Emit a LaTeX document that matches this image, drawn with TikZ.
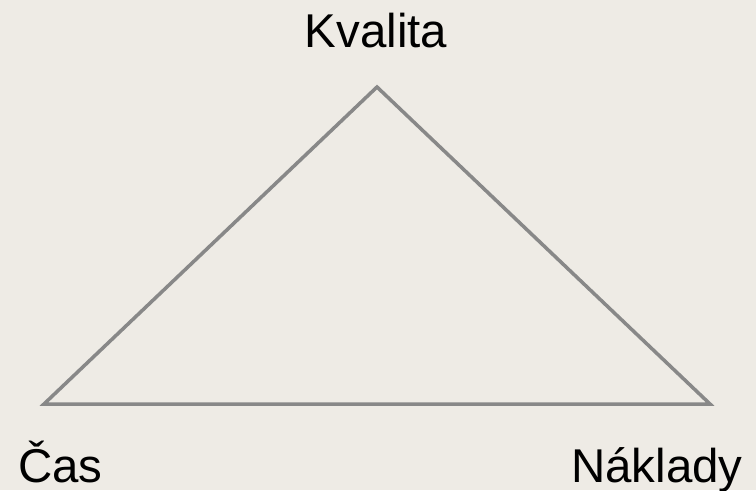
\documentclass[tikz,border=0pt]{standalone}
\usepackage{fontspec}
\setmainfont{Liberation Sans}
\usetikzlibrary{positioning}
\definecolor{paper}{HTML}{EEEBE5}
\definecolor{edgegray}{HTML}{888888}
\tikzset{
  cornerlabel/.style={
    inner sep=0pt, text=black,
    font=\fontsize{27}{31}\selectfont
  },
  triedge/.style={draw=edgegray, line width=2pt, line join=miter},
}

\begin{document}
\begin{tikzpicture}[x=0.02cm, y=-0.02cm]
    % page and background
    \fill[paper] (0,0) rectangle (756,490);
    \useasboundingbox (0,0) rectangle (756,490);

    % corners of the triangle
    \coordinate (top)   at (377,87);
    \coordinate (left)  at (44,404);
    \coordinate (right) at (710,404);
    \draw[triedge] (top) -- (left) -- (right) -- cycle;

    % labels
    \node[cornerlabel, anchor=base]      (kval) at (376,47)  {Kvalita};
    \node[cornerlabel, anchor=base west] (cas)  at (18,482)  {Čas};
    \node[cornerlabel, anchor=base east] (nakl) at (743,482) {Náklady};
\end{tikzpicture}
\end{document}
